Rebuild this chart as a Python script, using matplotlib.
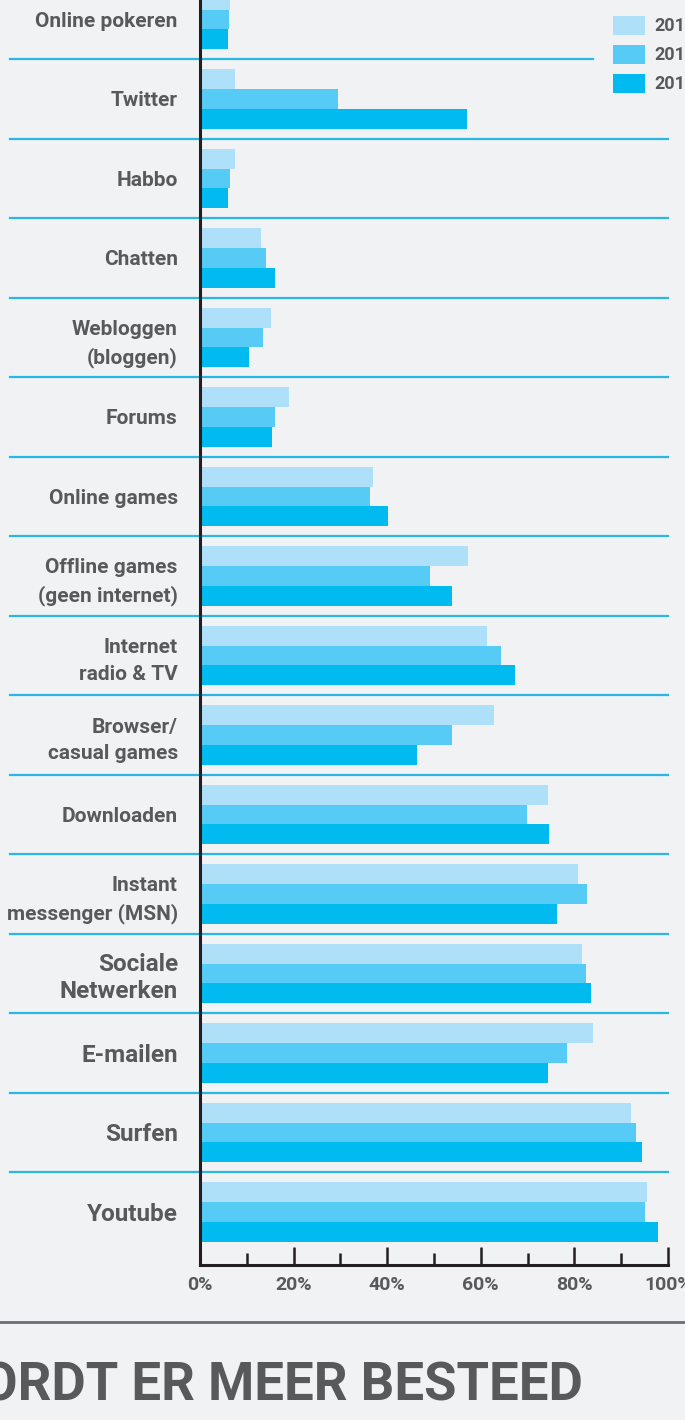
import numpy as np
import matplotlib
matplotlib.use("Agg")
import matplotlib.pyplot as plt
from matplotlib.patches import Rectangle
from matplotlib.lines import Line2D

plt.rcParams['font.family'] = ['Roboto', 'DejaVu Sans']

# data (percentages)
categories = ["Online pokeren", "Twitter", "Habbo", "Chatten",
              "Webloggen\n(bloggen)", "Forums", "Online games",
              "Offline games\n(geen internet)", "Internet\nradio & TV",
              "Browser/\ncasual games", "Downloaden",
              "Instant\nmessenger (MSN)", "Sociale\nNetwerken",
              "E-mailen", "Surfen", "Youtube"]
years = ["2010", "2011", "2012"]
v2010 = [6.5, 7.5, 7.5, 13.0, 15.2, 19.0, 37.0, 57.3, 61.3, 62.8, 74.4, 80.8, 81.7, 84.0, 92.1, 95.5]
v2011 = [6.2, 29.5, 6.4, 14.1, 13.5, 16.0, 36.3, 49.1, 64.3, 53.8, 69.9, 82.7, 82.5, 78.4, 93.2, 95.1]
v2012 = [6.0, 57.0, 6.0, 16.0, 10.5, 15.4, 40.2, 53.8, 67.3, 46.4, 74.6, 76.3, 83.5, 74.4, 94.4, 97.9]
big_labels = ["Sociale\nNetwerken", "E-mailen", "Surfen", "Youtube"]
xticks = [0, 20, 40, 60, 80, 100]

colors = ["#aee0fa", "#56cbf5", "#00baf0"]
grey = "#58595b"
bg = "#f1f2f4"
line_c = "#29b8e5"

W, H = 685, 1420


def fx(px):
    return px / W


def fy(py):
    return 1 - py / H


fig = plt.figure(figsize=(W / 100, H / 100), dpi=100, facecolor=bg)
ax = fig.add_axes([fx(200), fy(1265), fx(668) - fx(200), fy(0) - fy(1265)])
ax.set_facecolor(bg)

n = len(categories)
y = np.arange(n)[::-1].astype(float)
h = 0.248

ax.barh(y + h, v2010, height=h, color=colors[0], zorder=2)
ax.barh(y, v2011, height=h, color=colors[1], zorder=2)
ax.barh(y - h, v2012, height=h, color=colors[2], zorder=2)

ax.set_xlim(0, 100)
ax.set_ylim(-0.667, 15.245)

# separators between the groups
seps = (y[:-1] + y[1:]) / 2
for i, s in enumerate(seps):
    xmax = 84 if i == 0 else 100
    ax.plot([-40.6, xmax], [s, s], color=line_c, lw=1.6, clip_on=False, zorder=1)

for side in ["top", "right"]:
    ax.spines[side].set_visible(False)
for side in ["left", "bottom"]:
    ax.spines[side].set_color("#231f20")
    ax.spines[side].set_linewidth(2.2)
    ax.spines[side].set_zorder(5)

ax.set_xticks(xticks)
ax.set_xticklabels([f"{t}%" for t in xticks])
ax.set_xticks(range(10, 100, 20), minor=True)
ax.tick_params(axis="x", which="major", direction="in", length=13, width=1.8,
               color="#231f20", pad=8, labelsize=14, labelcolor=grey)
ax.tick_params(axis="x", which="minor", direction="in", length=8.5, width=1.8,
               color="#231f20")
for lab in ax.get_xticklabels():
    lab.set_fontweight("bold")

ax.set_yticks(y)
ax.set_yticklabels(categories)
ax.tick_params(axis="y", length=0, pad=16, labelcolor=grey)
for lab in ax.get_yticklabels():
    lab.set_fontweight("bold")
    if lab.get_text() in big_labels:
        lab.set_fontsize(17.5)
        lab.set_linespacing(1.2)
    else:
        lab.set_fontsize(15)
        lab.set_linespacing(1.5)

# legend, top right (cut by the image edge)
for k, yr in enumerate(years):
    top = 16 + 29 * k
    fig.add_artist(Rectangle((fx(613), fy(top + 19)), fx(645) - fx(613), fy(top) - fy(top + 19),
                             transform=fig.transFigure, facecolor=colors[k], edgecolor="none"))
    fig.text(fx(654), fy(top + 10), yr, ha="left", va="center", fontsize=13,
             fontweight="bold", color=grey)

# bottom rule and heading of next section
fig.add_artist(Line2D([0, 1], [fy(1322), fy(1322)], color="#6d6e71", lw=2,
                      transform=fig.transFigure))
fig.text(fx(583), fy(1386), "WORDT ER MEER BESTEED", ha="right", va="center",
         fontsize=38, fontweight="bold", color=grey)

fig.savefig("out.png", dpi=100, facecolor=bg)
